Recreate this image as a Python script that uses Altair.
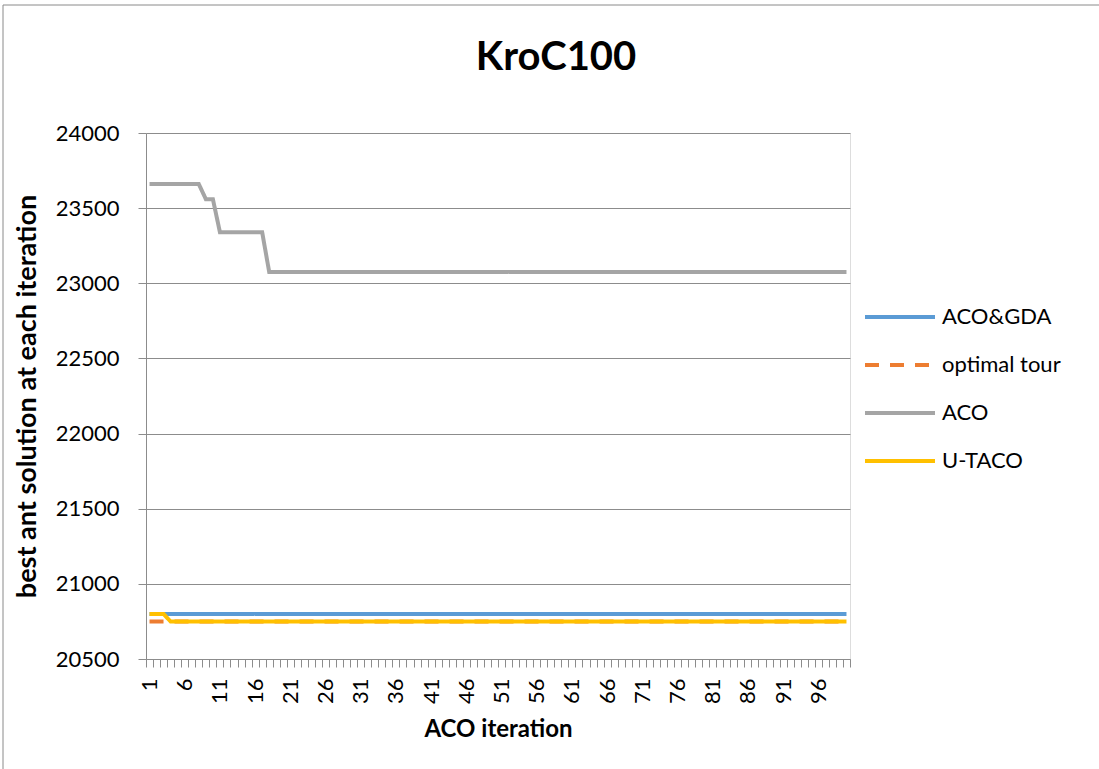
import altair as alt
import pandas as pd

iterations = list(range(1, 101))
series_names = ["ACO&GDA", "optimal tour", "ACO", "U-TACO"]
colors = ["#5B9BD5", "#ED7D31", "#A5A5A5", "#FFC000"]
dashes = [[1, 0], [14, 11], [1, 0], [1, 0]]

aco_gda = [20800] * 100
optimal = [20749] * 100
aco = [23660] * 8 + [23560] * 2 + [23340] * 7 + [23075] * 83
u_taco = [20800] * 3 + [20749] * 97

values = {"ACO&GDA": aco_gda, "optimal tour": optimal, "ACO": aco, "U-TACO": u_taco}
rows = []
for name in series_names:
    for it, v in zip(iterations, values[name]):
        rows.append({"iteration": it, "value": v, "series": name})
df = pd.DataFrame(rows)

FONT = "Lato"
GRID = "#8C8C8C"

x_enc = alt.X(
    "iteration:O",
    scale=alt.Scale(type="band", paddingInner=0, paddingOuter=0),
    axis=alt.Axis(
        title="ACO iteration",
        labelAngle=-90,
        labelExpr="(datum.value - 1) % 5 == 0 ? datum.label : ''",
        labelOverlap=False,
        tickBand="extent",
        tickSize=8,
        tickColor=GRID,
        domainColor=GRID,
        labelPadding=11,
        labelFontSize=22,
        labelColor="#000000",
        labelFont=FONT,
        titleFont=FONT,
        titleFontSize=24,
        titleFontWeight="bold",
        titleColor="#000000",
        titleY=77,
        titleBaseline="alphabetic",
        grid=False,
    ),
)
y_enc = alt.Y(
    "value:Q",
    scale=alt.Scale(domain=[20500, 24000], nice=False, zero=False),
    axis=alt.Axis(
        title="best ant solution at each iteration",
        values=[20500, 21000, 21500, 22000, 22500, 23000, 23500, 24000],
        format="d",
        tickSize=8,
        tickColor=GRID,
        domainColor=GRID,
        gridColor=GRID,
        labelPadding=19,
        labelFontSize=22,
        labelColor="#000000",
        labelFont=FONT,
        titleFont=FONT,
        titleFontSize=27,
        titleFontWeight="bold",
        titleColor="#000000",
        titleX=-111,
        titleBaseline="alphabetic",
    ),
)
legend_cfg = dict(
    title=None,
    orient="none",
    legendX=717,
    legendY=171,
    symbolType="stroke",
    symbolSize=4900,
    symbolStrokeWidth=4,
    clipHeight=26,
    rowPadding=22,
    labelOffset=5,
    labelFontSize=22,
    labelFont=FONT,
    labelColor="#000000",
    padding=0,
)
color_enc = alt.Color(
    "series:N",
    scale=alt.Scale(domain=series_names, range=colors),
    legend=alt.Legend(**legend_cfg),
)
dash_enc = alt.StrokeDash(
    "series:N",
    scale=alt.Scale(domain=series_names, range=dashes),
    legend=alt.Legend(**legend_cfg),
)

base = alt.Chart(df).mark_line(strokeWidth=4).encode(
    x=x_enc, y=y_enc, color=color_enc, strokeDash=dash_enc
)

layers = [base.transform_filter(alt.datum.series == s) for s in series_names]

frame = alt.Chart(pd.DataFrame({"a": [0]})).mark_rect(
    fillOpacity=0, stroke="#8A8A8A", strokeWidth=1
).encode(
    x=alt.value(-143), x2=alt.value(1100), y=alt.value(-128), y2=alt.value(800)
)

chart = alt.layer(frame, *layers).properties(
    width=704,
    height=526,
    padding={"left": 146, "top": 133, "right": 249, "bottom": 110},
    autosize=alt.AutoSizeParams(type="none"),
    title=alt.TitleParams(
        "KroC100",
        font=FONT,
        fontSize=40,
        fontWeight="bold",
        color="#000000",
        anchor="middle",
        dx=58,
        offset=-73,
    ),
).configure_view(stroke=None).configure(background="white")

chart.save("out.html", embed_options={"renderer": "svg", "actions": False})
